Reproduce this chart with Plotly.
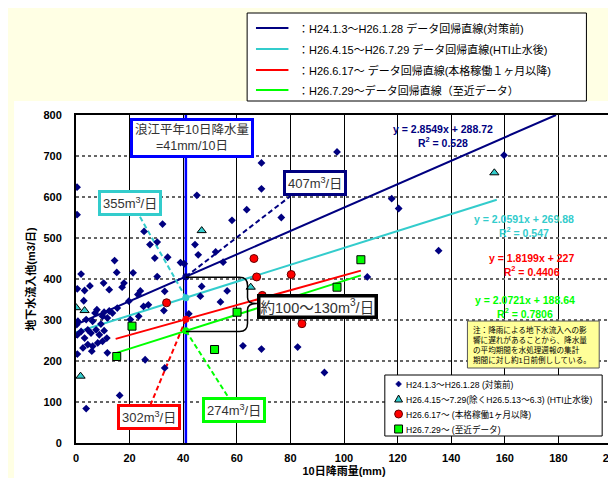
import plotly.graph_objects as go

# ---------------- data ----------------
pre_x = [0.4, 0.4, 32.3, 25.4, 27.6, 30.3, 29.4, 34.2, 14.4, 15.2, 1.9, 21.3, 30.3, 39.0, 40.4,
         10.3, 5.2, 3.2, 0.5, 12.4, 17.9, 17.2, 24.0,
         97.4, 69.2, 69.2, 45.1, 63.7, 58.2, 76.6, 44.4, 45.6, 52.1, 54.9, 46.9, 56.4, 46.4, 53.9, 42.1,
         62.3, 69.2, 82.7, 92.7, 159.7, 117.8, 120.4, 135.3, 108.7,
         25.8, 33.1, 16.3, 3.8,
         2.9, 7.8, 7.1, 10.5, 12.4, 25.2, 32.8, 0.7, 0.3, 3.8, 6.2, 9.9, 11.7, 9.3, 7.5, 4.4, 1.9, 0.5,
         3.2, 5.6, 8.7, 10.5, 11.5, 9.9, 8.1, 6.2, 4.4, 2.6, 5.9, 0.5, 11.7,
         23.1, 19.7, 27.0, 33.1, 20.3, 23.4, 15.4, 13.6]
pre_y = [624, 557, 534, 516, 484, 490, 451, 453, 445, 416, 412, 415, 406, 440, 437,
         390, 383, 372, 376, 374, 390, 380, 371,
         710, 683, 620, 604, 569, 543, 550, 484, 459, 466, 441, 382, 371, 358, 344, 315,
         237, 229, 234, 172, 702, 596, 572, 469, 405,
         203, 183, 116, 84,
         347, 325, 317, 319, 322, 333, 323, 297, 289, 301, 297, 309, 305, 290, 276, 276, 272, 264,
         256, 268, 264, 274, 256, 248, 244, 236, 240, 232, 224, 217, 220,
         362, 346, 337, 370, 301, 309, 329, 317]

hti_x = [0.1, 3.2, 1.7, 46.9, 65.2, 156.1]
hti_y = [330, 323, 163, 518, 380, 659]

full_x = [33.8, 66.4, 67.4, 69.5, 80.3, 84.3]
full_y = [342, 450, 405, 360, 411, 291]

recent_x = [15.2, 20.9, 51.7, 60.1, 97.4, 106.3]
recent_y = [211, 285, 228, 319, 380, 447]

series_names = ["H24.1.3～H26.1.28 (対策前)",
                "H26.4.15～7.29(除くH26.5.13～6.3) (HTI止水後)",
                "H26.6.17～ (本格稼働1ヶ月以降)",
                "H26.7.29～ (至近データ)"]

reg_names = ["：H24.1.3～H26.1.28 データ回帰直線(対策前)",
             "：H26.4.15～H26.7.29 データ回帰直線(HTI止水後)",
             "：H26.6.17～ データ回帰直線(本格稼働１ヶ月以降)",
             "：H26.7.29～データ回帰直線（至近データ）"]
reg_slope = [2.8549, 2.0591, 1.8199, 2.0721]
reg_icpt = [288.72, 269.88, 227, 188.64]
reg_eq = ["y = 2.8549x + 288.72", "y = 2.0591x + 269.88", "y = 1.8199x + 227", "y = 2.0721x + 188.64"]
reg_r2 = ["0.528", "0.547", "0.4406", "0.7806"]
reg_xmin = [0, 0, 14.8, 14.8]
reg_xmax = [179.1, 157, 106.3, 106.3]

rain_avg = 41
cross_labels = ["407", "355", "302", "274"]
range_label = "約100～130"
rain_label = "浪江平年10日降水量<br>=41mm/10日"
note_text = ("注：降雨による地下水流入への影<br>響に遅れがあることから、降水量<br>"
             "の平均期間を水処理週報の集計<br>期間に対し約1日前倒ししている。")

x_ticks = [0, 20, 40, 60, 80, 100, 120, 140, 160, 180, 200]
y_ticks = [0, 100, 200, 300, 400, 500, 600, 700, 800]

# ---------------- styling ----------------
NAVY, CYAN, RED, GREEN, BLUE = "#000080", "#33CCCC", "#FF0000", "#00FF00", "#0000FF"
reg_colors = [NAVY, CYAN, RED, GREEN]
FONT = "Liberation Sans, Arial, Noto Sans CJK JP, sans-serif"

W, H = 616, 478
PL, PT, PR, PB = 68, 107, 3, 43
PW, PH = W - PL - PR, H - PT - PB


def fx(px):
    return (px - PL) / PW


def fy(py):
    return (PT + PH - py) / PH


fig = go.Figure()

# rainfall reference line
fig.add_trace(go.Scatter(x=[rain_avg, rain_avg], y=[0, 800], mode="lines",
                         line=dict(color=BLUE, width=2.5), hoverinfo="skip", showlegend=False))

# regression lines
for i in range(4):
    xs = [reg_xmin[i], reg_xmax[i]]
    fig.add_trace(go.Scatter(x=xs, y=[reg_slope[i] * v + reg_icpt[i] for v in xs], mode="lines",
                             line=dict(color=reg_colors[i], width=2), name=reg_names[i],
                             showlegend=False))

# callout dashed lines
call_end = [(80, 602), (23.4, 557), (27.6, 90), (57, 110)]
for i in range(4):
    yc = reg_slope[i] * rain_avg + reg_icpt[i]
    fig.add_trace(go.Scatter(x=[rain_avg, call_end[i][0]], y=[yc, call_end[i][1]], mode="lines",
                             line=dict(color=reg_colors[i], width=2, dash="5px,3px"),
                             hoverinfo="skip", showlegend=False))

# scatter series
fig.add_trace(go.Scatter(x=pre_x, y=pre_y, mode="markers", name=series_names[0],
                         marker=dict(symbol="diamond", size=6, color=NAVY), showlegend=False))
fig.add_trace(go.Scatter(x=hti_x, y=hti_y, mode="markers", name=series_names[1],
                         marker=dict(symbol="triangle-up", size=8, color=CYAN,
                                     line=dict(color="#000000", width=1)), showlegend=False))
fig.add_trace(go.Scatter(x=full_x, y=full_y, mode="markers", name=series_names[2],
                         marker=dict(symbol="circle", size=8, color=RED,
                                     line=dict(color="#660000", width=1)), showlegend=False))
fig.add_trace(go.Scatter(x=recent_x, y=recent_y, mode="markers", name=series_names[3],
                         marker=dict(symbol="square", size=8, color=GREEN,
                                     line=dict(color="#000000", width=1)), showlegend=False))

# intersection markers
fig.add_trace(go.Scatter(x=[rain_avg] * 4, y=[reg_slope[i] * rain_avg + reg_icpt[i] for i in range(4)],
                         mode="markers", marker=dict(size=7, color=reg_colors),
                         hoverinfo="skip", showlegend=False))

shapes = []
annotations = []

# chart area background
shapes.append(dict(type="rect", xref="paper", yref="paper", x0=fx(5), x1=fx(W + 5), y0=fy(93), y1=fy(H + 5),
                   fillcolor="#FFFFFF", line=dict(width=0), layer="below"))

# brace
brace = ("M 41,404 L 61,404 Q 64,404 64,384 L 64,355 Q 64,340 67.5,340 "
         "Q 64,340 64,325 L 64,292 Q 64,272 61,272 L 41,272")
shapes.append(dict(type="path", xref="x", yref="y", path=brace, line=dict(color="#000000", width=1.5)))

# callout boxes
box_pos = [(89.2, 634), (20.0, 585), (27.3, 63), (59.1, 80)]
for i in range(4):
    annotations.append(dict(x=box_pos[i][0], y=box_pos[i][1], xref="x", yref="y", showarrow=False,
                            text=cross_labels[i] + "m<sup>3</sup>/日",
                            font=dict(family=FONT, size=13, color="#333333"),
                            bgcolor="#FFFFFF", bordercolor=reg_colors[i], borderwidth=3, borderpad=2))
annotations.append(dict(x=90.1, y=333, xref="x", yref="y", showarrow=False,
                        text=range_label + "m<sup>3</sup>/日",
                        font=dict(family=FONT, size=14.5, color="#333333"),
                        bgcolor="#FFFFFF", bordercolor="#000000", borderwidth=3.5, borderpad=0))
annotations.append(dict(x=43.1, y=744, xref="x", yref="y", showarrow=False, text=rain_label,
                        font=dict(family=FONT, size=12.5, color="#333333"),
                        bgcolor="#FFFFFF", bordercolor=BLUE, borderwidth=3, borderpad=2))

# regression equations
eq_pos = [(137.1, 749), (167.0, 529), (170.1, 433), (167.7, 332)]
for i in range(4):
    annotations.append(dict(x=eq_pos[i][0], y=eq_pos[i][1], xref="x", yref="y", showarrow=False,
                            text=reg_eq[i] + "<br>R<sup>2</sup> = " + reg_r2[i],
                            font=dict(family=FONT, size=10.5, color=reg_colors[i], weight="bold")))

# note box
shapes.append(dict(type="rect", xref="paper", yref="paper", x0=fx(466), x1=fx(600), y0=fy(313), y1=fy(360),
                   fillcolor="#FFFF99", line=dict(color="#555555", width=1)))
annotations.append(dict(x=fx(470), y=fy(315), xref="paper", yref="paper", xanchor="left", yanchor="top",
                        showarrow=False, align="left", text=note_text,
                        font=dict(family=FONT, size=7.6, color="#000000")))

# top legend (regression lines)
shapes.append(dict(type="rect", xref="paper", yref="paper", x0=fx(242), x1=fx(587), y0=fy(5), y1=fy(93),
                   fillcolor="#FFFFFF", line=dict(color="#000000", width=1)))
row_y = [20, 41, 62, 82]
for i in range(4):
    shapes.append(dict(type="line", xref="paper", yref="paper", x0=fx(251), x1=fx(284),
                       y0=fy(row_y[i]), y1=fy(row_y[i]), line=dict(color=reg_colors[i], width=2)))
    annotations.append(dict(x=fx(292), y=fy(row_y[i]), xref="paper", yref="paper", xanchor="left",
                            yanchor="middle", showarrow=False, text=reg_names[i],
                            font=dict(family=FONT, size=11, color="#000000")))

# bottom legend (series)
shapes.append(dict(type="rect", xref="paper", yref="paper", x0=fx(382), x1=fx(603), y0=fy(367), y1=fy(428),
                   fillcolor="#FFFFFF", line=dict(color="#000000", width=1)))
leg_y = [376, 391, 406, 421]
mx = 396
sym = []
d = 3
sym.append(dict(type="path", xref="paper", yref="paper",
                path=f"M {fx(mx)},{fy(leg_y[0]-d)} L {fx(mx+d)},{fy(leg_y[0])} L {fx(mx)},{fy(leg_y[0]+d)} L {fx(mx-d)},{fy(leg_y[0])} Z",
                fillcolor=NAVY, line=dict(color=NAVY, width=0.5)))
t = 4
sym.append(dict(type="path", xref="paper", yref="paper",
                path=f"M {fx(mx)},{fy(leg_y[1]-t)} L {fx(mx+t)},{fy(leg_y[1]+3)} L {fx(mx-t)},{fy(leg_y[1]+3)} Z",
                fillcolor=CYAN, line=dict(color="#000000", width=1)))
c = 4
sym.append(dict(type="circle", xref="paper", yref="paper", x0=fx(mx - c), x1=fx(mx + c),
                y0=fy(leg_y[2] - c), y1=fy(leg_y[2] + c), fillcolor=RED, line=dict(color="#660000", width=1)))
s = 4
sym.append(dict(type="rect", xref="paper", yref="paper", x0=fx(mx - s), x1=fx(mx + s),
                y0=fy(leg_y[3] - s), y1=fy(leg_y[3] + s), fillcolor=GREEN, line=dict(color="#000000", width=1)))
shapes.extend(sym)
for i in range(4):
    annotations.append(dict(x=fx(401), y=fy(leg_y[i]), xref="paper", yref="paper", xanchor="left",
                            yanchor="middle", showarrow=False, text=series_names[i],
                            font=dict(family=FONT, size=8.6, color="#000000")))

fig.update_layout(
    width=W, height=H,
    margin=dict(l=PL, r=PR, t=PT, b=PB, pad=0),
    paper_bgcolor="#FFFFE4",
    plot_bgcolor="#FFFFFF",
    showlegend=False,
    shapes=shapes,
    annotations=annotations,
    font=dict(family=FONT, color="#000000"),
)
fig.update_xaxes(range=[0, 200], tickvals=x_ticks, showgrid=True, gridcolor="#000000", gridwidth=1,
                 showline=True, linecolor="#000000", linewidth=2, mirror=True, zeroline=False,
                 ticks="", ticklabeloverflow="allow", ticklabelstandoff=4,
                 tickfont=dict(family=FONT, size=11, color="#000000", weight="bold"),
                 title=dict(text="10日降雨量(mm)", standoff=4,
                            font=dict(family=FONT, size=11, color="#000000", weight="bold")))
fig.update_yaxes(range=[0, 800], tickvals=y_ticks, showgrid=True, gridcolor="#666666", gridwidth=1.5,
                 griddash="dot",
                 showline=True, linecolor="#000000", linewidth=2, mirror=True, zeroline=False,
                 ticks="", ticklabelstandoff=10,
                 tickfont=dict(family=FONT, size=11, color="#000000", weight="bold"),
                 title=dict(text="地下水流入他(m3/日)", standoff=6,
                            font=dict(family=FONT, size=11, color="#000000", weight="bold")))

fig.write_html("out.html")
